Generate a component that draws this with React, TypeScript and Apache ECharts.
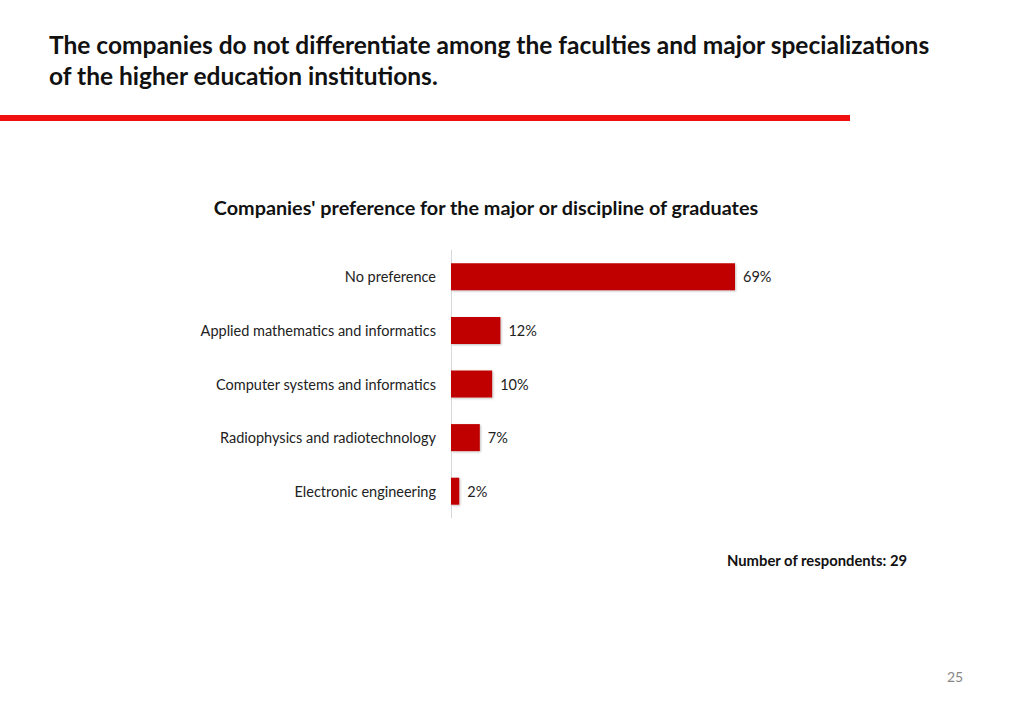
import React, { useEffect, useRef } from "react";
import * as echarts from "echarts";

const categories = [
  "No preference",
  "Applied mathematics and informatics",
  "Computer systems and informatics",
  "Radiophysics and radiotechnology",
  "Electronic engineering",
];
const values = [69, 12, 10, 7, 2];

const pageTitleLines = [
  "The companies do not differentiate among the faculties and major specializations",
  "of the higher education institutions.",
];
const chartTitle = "Companies' preference for the major or discipline of graduates";
const footnote = "Number of respondents: 29";
const pageNumber = "25";

const FONT = "Lato, 'Open Sans', sans-serif";

export default function App() {
  const ref = useRef<HTMLDivElement>(null);
  useEffect(() => {
    if (!ref.current) return;
    const chart = echarts.init(ref.current, null, { renderer: "svg" });
    chart.setOption({
      animation: false,
      backgroundColor: "#ffffff",
      textStyle: { fontFamily: FONT },
      title: [
        {
          text: pageTitleLines.join("\n"),
          left: 49,
          top: 29,
          padding: 0,
          textStyle: {
            fontFamily: FONT,
            fontSize: 24.5,
            fontWeight: "bold",
            color: "#111111",
            lineHeight: 31,
          },
        },
        {
          text: chartTitle,
          left: 486,
          textAlign: "center",
          top: 197,
          padding: 0,
          textStyle: { fontFamily: FONT, fontSize: 19.8, fontWeight: "bold", color: "#111111", lineHeight: 20 },
        },
        {
          text: footnote,
          left: 727,
          top: 552,
          padding: 0,
          textStyle: { fontFamily: FONT, fontSize: 14.8, fontWeight: "bold", color: "#111111", lineHeight: 16 },
        },
        {
          text: pageNumber,
          left: 947,
          top: 668,
          padding: 0,
          textStyle: { fontFamily: FONT, fontSize: 14, fontWeight: "normal", color: "#888888", lineHeight: 16 },
        },
      ],
      graphic: [
        {
          type: "rect",
          shape: { x: 0, y: 115, width: 850, height: 6 },
          style: { fill: "#f01010" },
        },
      ],
      grid: { left: 451, top: 250, width: 411.6, height: 268, containLabel: false },
      xAxis: {
        type: "value",
        min: 0,
        max: 100,
        show: false,
      },
      yAxis: {
        type: "category",
        data: categories,
        inverse: true,
        axisLine: { show: true, lineStyle: { color: "#d9d9d9", width: 1 } },
        axisTick: { show: false },
        axisLabel: { color: "#222222", fontSize: 14.5, fontFamily: FONT, margin: 15 },
      },
      series: [
        {
          type: "bar",
          data: values,
          barWidth: 27,
          itemStyle: {
            color: "#c00000",
            shadowColor: "rgba(0,0,0,0.25)",
            shadowBlur: 2,
            shadowOffsetX: 1,
            shadowOffsetY: 1,
          },
          label: {
            show: true,
            position: "right",
            distance: 8,
            formatter: "{c}%",
            color: "#222222",
            fontSize: 14.5,
            fontFamily: FONT,
          },
        },
      ],
    });
    return () => chart.dispose();
  }, []);
  return (
    <div
      ref={ref}
      style={{ position: "fixed", left: 0, top: 0, width: 1024, height: 709 }}
    />
  );
}
